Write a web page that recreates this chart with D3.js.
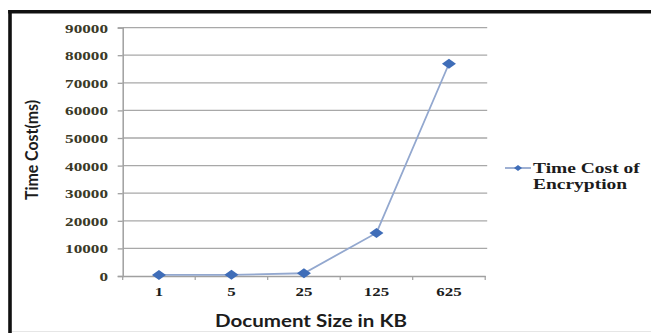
<!DOCTYPE html>
<html>
<head>
<meta charset="utf-8">
<script src="https://cdn.jsdelivr.net/npm/d3@7"></script>
<style>
  html, body { margin: 0; padding: 0; background: #fff; }
  svg { display: block; }
</style>
</head>
<body>
<svg id="chart" width="651" height="333"></svg>
<script>
// Document sizes (KB) and measured encryption time (ms)
const sizes = ["1", "5", "25", "125", "625"];
const encryptTime = [380, 420, 1000, 15600, 76900];
const yTicks = [0, 10000, 20000, 30000, 40000, 50000, 60000, 70000, 80000, 90000];
const seriesName = ["Time Cost of", "Encryption"];
const xTitle = "Document Size in KB";
const yTitle = "Time Cost(ms)";

const svg = d3.select("#chart");
const W = 651, H = 333;

// plot area
const plotL = 122.7, plotR = 485.2, plotT = 27.6, plotB = 276;

const x = d3.scaleBand().domain(sizes).range([plotL, plotR]);
const y = d3.scaleLinear().domain([0, 90000]).range([plotB, plotT]);

const serif = "'Liberation Serif', 'Times New Roman', serif";
const sans = "Lato, 'Open Sans', sans-serif";

// outer frame (left and top edges)
svg.append("line").attr("x1", 10).attr("x2", 10).attr("y1", 10).attr("y2", H)
  .attr("stroke", "#111").attr("stroke-width", 3.6);
svg.append("line").attr("x1", 8.2).attr("x2", W).attr("y1", 11.7).attr("y2", 11.7)
  .attr("stroke", "#111").attr("stroke-width", 3.4);
svg.append("line").attr("x1", 12).attr("x2", W).attr("y1", 331.5).attr("y2", 331.5)
  .attr("stroke", "#e6e6e6").attr("stroke-width", 1.2);

// horizontal gridlines
svg.append("g")
  .selectAll("line")
  .data(yTicks.filter(d => d > 0))
  .join("line")
  .attr("x1", plotL).attr("x2", plotR + 2)
  .attr("y1", d => y(d)).attr("y2", d => y(d))
  .attr("stroke", "#a8a8a8").attr("stroke-width", 1.3);

// y axis
const yAxis = svg.append("g")
  .attr("transform", `translate(${plotL},0)`)
  .call(d3.axisLeft(y).tickValues(yTicks).tickSize(5).tickPadding(0).tickFormat(d3.format("d")));
yAxis.select(".domain").attr("stroke", "#a0a0a0").attr("stroke-width", 1.5);
yAxis.selectAll(".tick line").attr("stroke", "#a0a0a0").attr("stroke-width", 1.3);
yAxis.selectAll(".tick text")
  .attr("x", -14.7 / 1.32)
  .attr("dy", "0.34em")
  .attr("transform", "scale(1.32,1)")
  .attr("fill", "#3b3a27")
  .style("font-family", serif)
  .style("font-weight", "bold")
  .style("font-size", "13px");

// x axis, labels centred in each band
const xAxis = svg.append("g")
  .attr("transform", `translate(0,${plotB})`)
  .call(d3.axisBottom(x).tickSize(0).tickPadding(0));
xAxis.select(".domain").attr("stroke", "#a0a0a0").attr("stroke-width", 1.5);
xAxis.selectAll(".tick text")
  .attr("y", 0)
  .attr("dy", 20.5)
  .attr("transform", "scale(1.3,1)")
  .attr("fill", "#1c1c1c")
  .style("font-family", serif)
  .style("font-weight", "bold")
  .style("font-size", "13px");

// tick marks on category boundaries
const bounds = sizes.map(s => x(s)).concat([plotR]);
svg.append("g").selectAll("line")
  .data(bounds)
  .join("line")
  .attr("x1", d => d).attr("x2", d => d)
  .attr("y1", plotB).attr("y2", plotB + 4)
  .attr("stroke", "#a0a0a0").attr("stroke-width", 1.2);

// series line
const pts = sizes.map((s, i) => [x(s) + x.bandwidth() / 2, y(encryptTime[i])]);
svg.append("path")
  .attr("d", d3.line()(pts))
  .attr("fill", "none")
  .attr("stroke", "#93a8cf")
  .attr("stroke-width", 1.8);

// diamond markers
const diamond = (w, h) => `M0,${-h}L${w},0L0,${h}L${-w},0Z`;
svg.append("g").selectAll("path")
  .data(pts)
  .join("path")
  .attr("transform", d => `translate(${d[0]},${d[1]})`)
  .attr("d", diamond(7, 5))
  .attr("fill", "#3f6db8");

// legend
const lgY = 168;
svg.append("line").attr("x1", 505).attr("x2", 531).attr("y1", lgY).attr("y2", lgY)
  .attr("stroke", "#93a8cf").attr("stroke-width", 1.8);
svg.append("path").attr("transform", `translate(518,${lgY})`).attr("d", diamond(4, 3))
  .attr("fill", "#3f6db8");
svg.append("g").selectAll("text")
  .data(seriesName)
  .join("text")
  .attr("transform", (d, i) => `translate(533,${173.3 + i * 15.5}) scale(1.3,1)`)
  .attr("fill", "#1c1c1c")
  .style("font-family", serif)
  .style("font-weight", "bold")
  .style("font-size", "15px")
  .text(d => d);

// axis titles
svg.append("text")
  .attr("x", 311).attr("y", 326.5)
  .attr("text-anchor", "middle")
  .attr("textLength", 192)
  .attr("lengthAdjust", "spacingAndGlyphs")
  .attr("fill", "#1c1c1c")
  .style("font-family", sans)
  .style("font-weight", "bold")
  .style("font-size", "16.5px")
  .text(xTitle);

svg.append("text")
  .attr("transform", "translate(38,150) rotate(-90)")
  .attr("text-anchor", "middle")
  .attr("textLength", 100)
  .attr("lengthAdjust", "spacingAndGlyphs")
  .attr("fill", "#1c1c1c")
  .style("font-family", sans)
  .style("font-weight", "bold")
  .style("font-size", "16.5px")
  .text(yTitle);
</script>
</body>
</html>
